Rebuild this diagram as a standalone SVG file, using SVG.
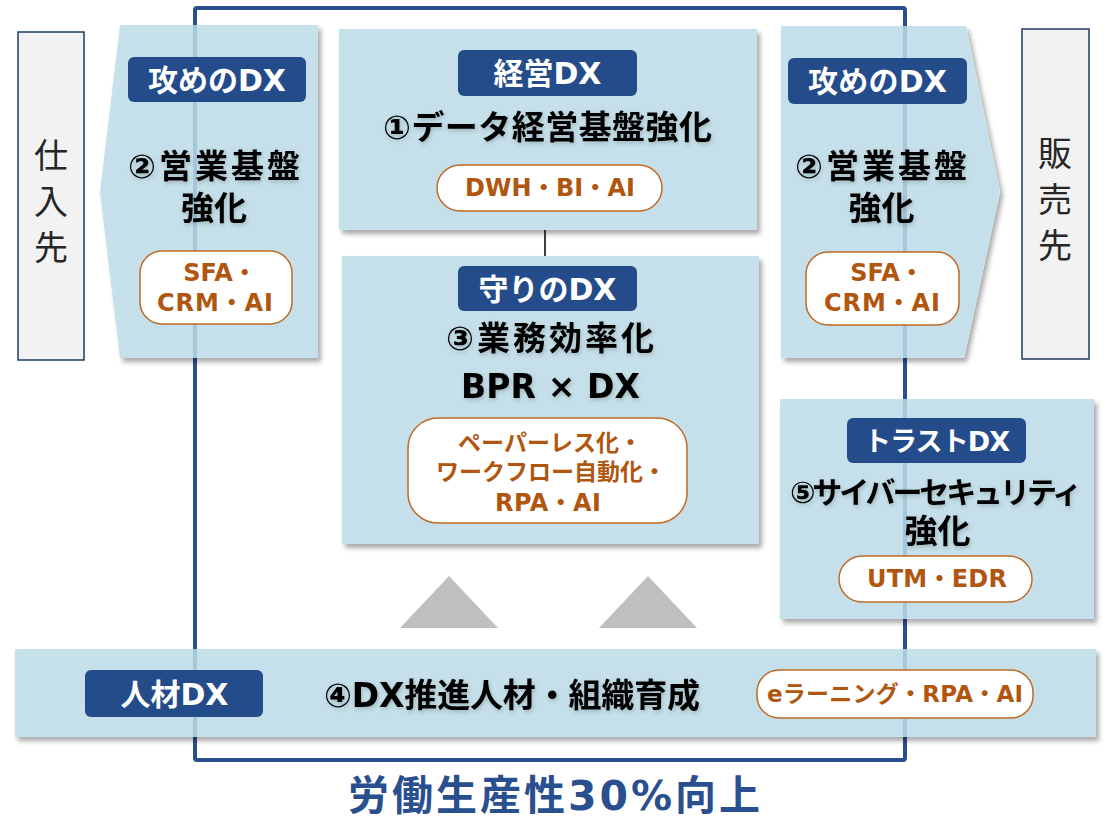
<svg xmlns="http://www.w3.org/2000/svg" width="1106" height="819" viewBox="0 0 1106 819">
<style>
.box{fill:#bcdce8;fill-opacity:0.85;filter:url(#sh)}
.side{fill:#f2f2f2;stroke:#1f3a5f;stroke-width:1.5}
.lblr{fill:#244c8a}
.lbl{fill:#ffffff;font-family:"DejaVu Sans","Noto Sans CJK JP",sans-serif;font-weight:bold;font-size:30px;text-anchor:middle;dominant-baseline:central}
.ttl{fill:#000000;font-family:"DejaVu Sans","Noto Sans CJK JP",sans-serif;font-weight:bold;font-size:33px;text-anchor:middle;dominant-baseline:central;filter:url(#tsh)}
.pill{fill:#ffffff;stroke:#bf6a25;stroke-width:1.5}
.pt{fill:#b0560f;font-family:"DejaVu Sans","Noto Sans CJK JP",sans-serif;font-weight:bold;font-size:24px;text-anchor:middle;dominant-baseline:central}
.vt{fill:#262626;font-family:"Noto Sans CJK JP",sans-serif;font-size:34px;text-anchor:middle;dominant-baseline:central}
.tri{fill:#bfbfbf}
</style>
<defs>
<filter id="sh" x="-5%" y="-5%" width="115%" height="120%">
<feGaussianBlur in="SourceAlpha" stdDeviation="2.5"/>
<feOffset dx="3" dy="4" result="b"/>
<feComposite in="b" in2="SourceAlpha" operator="out" result="o"/>
<feComponentTransfer in="o" result="s"><feFuncA type="linear" slope="0.4"/></feComponentTransfer>
<feMerge><feMergeNode in="s"/><feMergeNode in="SourceGraphic"/></feMerge>
</filter>
<filter id="tsh" x="-10%" y="-30%" width="120%" height="170%">
<feDropShadow dx="1" dy="2" stdDeviation="2" flood-color="#000" flood-opacity="0.2"/>
</filter>
</defs>

<g id="connectors">
<rect x="195" y="8" width="710" height="752" rx="2" fill="none" stroke="#2a4f8f" stroke-width="4"/>
<line x1="545" y1="230" x2="545" y2="256" stroke="#000" stroke-width="1.5"/>
</g>

<g id="shiiresaki">
<rect class="side" x="18" y="32" width="66" height="328"/>
<text class="vt" x="51" y="153">仕</text>
<text class="vt" x="51" y="199">入</text>
<text class="vt" x="51" y="245">先</text>
</g>

<g id="hanbaisaki">
<rect class="side" x="1022" y="29" width="67" height="330"/>
<text class="vt" x="1055" y="151">販</text>
<text class="vt" x="1055" y="197">売</text>
<text class="vt" x="1055" y="243">先</text>
</g>

<g id="semeLeft">
<polygon class="box" points="120,25 318,25 318,358 120,358 100,192"/>
<rect class="lblr" x="128" y="57" width="178" height="45" rx="6"/>
<text class="lbl" x="217" y="80" textLength="138">攻めのDX</text>
<text class="ttl" x="214" y="166" textLength="172">②営業基盤</text>
<text class="ttl" x="214" y="208">強化</text>
<rect class="pill" x="140" y="251" width="152" height="73" rx="22"/>
<text class="pt" x="220" y="273">SFA・</text>
<text class="pt" x="215" y="303" textLength="116">CRM・AI</text>
</g>

<g id="semeRight">
<polygon class="box" points="781,26 966,26 1000,192 964,358 781,358"/>
<rect class="lblr" x="788" y="58" width="179" height="46" rx="6"/>
<text class="lbl" x="877.5" y="81" textLength="139">攻めのDX</text>
<text class="ttl" x="881" y="166" textLength="172">②営業基盤</text>
<text class="ttl" x="881.5" y="208">強化</text>
<rect class="pill" x="806" y="252" width="153" height="73" rx="22"/>
<text class="pt" x="887" y="273">SFA・</text>
<text class="pt" x="882" y="303" textLength="116">CRM・AI</text>
</g>

<g id="keiei">
<rect class="box" x="339" y="29" width="418" height="201"/>
<rect class="lblr" x="458" y="50" width="179" height="46" rx="6"/>
<text class="lbl" x="547.5" y="73.5">経営DX</text>
<text class="ttl" x="547.5" y="127" textLength="329">①データ経営基盤強化</text>
<rect class="pill" x="437" y="165" width="225" height="46" rx="23"/>
<text class="pt" x="550" y="188" textLength="170">DWH・BI・AI</text>
</g>

<g id="mamori">
<rect class="box" x="342" y="256" width="417" height="288"/>
<rect class="lblr" x="458" y="266" width="179" height="45" rx="6"/>
<text class="lbl" x="547.5" y="289">守りのDX</text>
<text class="ttl" x="550" y="338" textLength="208">③業務効率化</text>
<text class="ttl" x="550.5" y="386" textLength="179">BPR × DX</text>
<rect class="pill" x="408" y="418" width="279" height="105" rx="30"/>
<text class="pt" x="550" y="443" style="font-size:23px">ペーパーレス化・</text>
<text class="pt" x="551" y="472" style="font-size:23px">ワークフロー自動化・</text>
<text class="pt" x="548" y="503" textLength="106">RPA・AI</text>
</g>

<g id="arrows">
<polygon class="tri" points="449,576 498,628 400,628"/>
<polygon class="tri" points="648,576 697,628 599,628"/>
</g>

<g id="trust">
<rect class="box" x="780" y="399" width="314" height="220"/>
<rect class="lblr" x="847" y="418" width="179" height="45" rx="6"/>
<text class="lbl" x="937" y="441" textLength="146" style="font-size:27px">トラストDX</text>
<text class="ttl" x="936" y="492" textLength="292" style="font-size:30px">⑤サイバーセキュリティ</text>
<text class="ttl" x="937.5" y="531">強化</text>
<rect class="pill" x="839" y="556" width="193" height="46" rx="23"/>
<text class="pt" x="937" y="579" textLength="140">UTM・EDR</text>
</g>

<g id="jinzai">
<rect class="box" x="15" y="649" width="1081" height="88"/>
<rect class="lblr" x="85" y="670" width="178" height="47" rx="6"/>
<text class="lbl" x="174.5" y="694">人材DX</text>
<text class="ttl" x="512" y="695" textLength="376">④DX推進人材・組織育成</text>
<rect class="pill" x="757" y="670" width="276" height="48" rx="22"/>
<text class="pt" x="895" y="694" textLength="256" style="font-size:23px">eラーニング・RPA・AI</text>
</g>

<g id="goal">
<text x="554" y="796" textLength="412" style="fill:#2a4f8f;font-family:'DejaVu Sans','Noto Sans CJK JP',sans-serif;font-weight:bold;font-size:41px;text-anchor:middle;dominant-baseline:central">労働生産性30%向上</text>
</g>
</svg>
